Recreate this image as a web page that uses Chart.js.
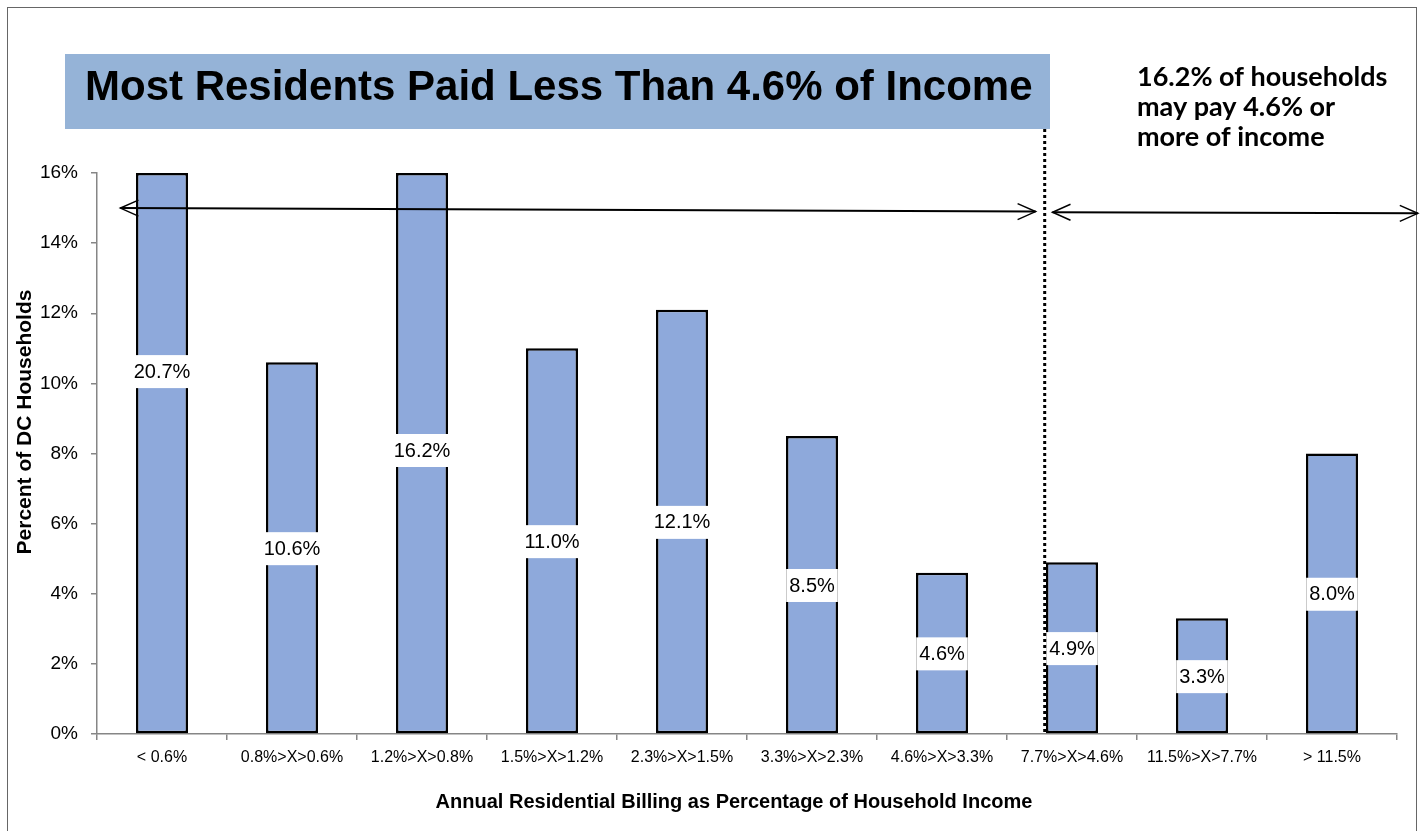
<!DOCTYPE html>
<html>
<head>
<meta charset="utf-8">
<script src="https://cdn.jsdelivr.net/npm/chart.js@4"></script>
<style>
  html, body { margin: 0; padding: 0; background: #fff; }
  #wrap { width: 1424px; height: 831px; position: relative; }
</style>
</head>
<body>
<div id="wrap"><canvas id="billingChart" width="1424" height="831"></canvas></div>
<script>
// Categories and shares
const categories = ['< 0.6%', '0.8%>X>0.6%', '1.2%>X>0.8%', '1.5%>X>1.2%', '2.3%>X>1.5%',
  '3.3%>X>2.3%', '4.6%>X>3.3%', '7.7%>X>4.6%', '11.5%>X>7.7%', '> 11.5%'];
const shares = [20.7, 10.6, 16.2, 11.0, 12.1, 8.5, 4.6, 4.9, 3.3, 8.0];
const yTicks = [0, 2, 4, 6, 8, 10, 12, 14, 16];
const yMax = 16;

const titleText = 'Most Residents Paid Less Than 4.6% of Income';
const noteLines = ['16.2% of households', 'may pay 4.6% or', 'more of income'];
const xTitle = 'Annual Residential Billing as Percentage of Household Income';
const yTitle = 'Percent of DC Households';

const FONT = '"Liberation Sans", Arial, sans-serif';

function arrowHead(ctx, x, y, dir) {
  ctx.beginPath();
  ctx.moveTo(x - dir * 18, y - 8);
  ctx.lineTo(x, y);
  ctx.lineTo(x - dir * 18, y + 8);
  ctx.stroke();
}

// Draws the title box, notes, arrows, dotted divider and value labels
const decorations = {
  id: 'decorations',
  beforeDraw(chart) {
    const ctx = chart.ctx;
    ctx.save();
    ctx.fillStyle = '#fff';
    ctx.fillRect(0, 0, chart.width, chart.height);
    ctx.strokeStyle = '#666';
    ctx.lineWidth = 1;
    ctx.strokeRect(7.5, 7.5, 1409, 900);
    ctx.restore();
  },
  afterDatasetsDraw(chart) {
    const ctx = chart.ctx;
    const xs = chart.scales.x, ys = chart.scales.y;
    const meta = chart.getDatasetMeta(0);
    ctx.save();

    // value labels at the middle of the true value
    ctx.font = '20px ' + FONT;
    ctx.textAlign = 'center';
    ctx.textBaseline = 'middle';
    meta.data.forEach((bar, i) => {
      const txt = shares[i].toFixed(1) + '%';
      const y = ys.getPixelForValue(shares[i] / 2);
      const w = ctx.measureText(txt).width + 6;
      ctx.fillStyle = '#fff';
      ctx.fillRect(bar.x - w / 2, y - 16, w, 33);
      ctx.fillStyle = '#000';
      ctx.fillText(txt, bar.x, y + 1);
    });

    // title box
    ctx.fillStyle = '#95B3D7';
    ctx.fillRect(65, 54, 985, 75);
    ctx.fillStyle = '#000';
    ctx.font = 'bold 42px ' + FONT;
    ctx.textAlign = 'left';
    ctx.textBaseline = 'alphabetic';
    ctx.fillText(titleText, 85, 100);

    // note on the right
    ctx.font = 'bold 27px Lato, "Open Sans", sans-serif';
    noteLines.forEach((line, i) => ctx.fillText(line, 1137, 86 + i * 30));

    // dotted divider
    const divX = xs.getPixelForValue(6.79);
    ctx.strokeStyle = '#000';
    ctx.lineWidth = 3;
    ctx.setLineDash([3, 3]);
    ctx.beginPath();
    ctx.moveTo(divX, 129);
    ctx.lineTo(divX, ys.bottom);
    ctx.stroke();
    ctx.setLineDash([]);

    // double-headed arrows
    ctx.lineWidth = 2;
    const arrows = [
      [-0.32, 15.0, 6.72, 14.9],
      [6.85, 14.88, 9.66, 14.85]
    ];
    arrows.forEach(a => {
      const x1 = xs.getPixelForValue(a[0]), y1 = ys.getPixelForValue(a[1]);
      const x2 = xs.getPixelForValue(a[2]), y2 = ys.getPixelForValue(a[3]);
      ctx.beginPath();
      ctx.moveTo(x1, y1);
      ctx.lineTo(x2, y2);
      ctx.stroke();
      ctx.lineWidth = 1.5;
      arrowHead(ctx, x1, y1, -1);
      arrowHead(ctx, x2, y2, 1);
      ctx.lineWidth = 2;
    });

    // axis titles
    ctx.textAlign = 'center';
    ctx.textBaseline = 'middle';
    ctx.font = 'bold 20px ' + FONT;
    ctx.fillText(xTitle, 734, 802);
    ctx.font = 'bold 21px ' + FONT;
    ctx.translate(25, 422);
    ctx.rotate(-Math.PI / 2);
    ctx.fillText(yTitle, 0, 0);
    ctx.restore();
  }
};

const ctx = document.getElementById('billingChart').getContext('2d');
const billingChart = new Chart(ctx, {
  type: 'bar',
  data: {
    labels: categories,
    datasets: [{
      data: shares.map(v => Math.min(v, yMax)),
      backgroundColor: '#8EA9DB',
      borderColor: '#000',
      borderWidth: 2.5,
      borderSkipped: false,
      barPercentage: 0.4,
      categoryPercentage: 1
    }]
  },
  options: {
    responsive: false,
    animation: false,
    devicePixelRatio: 1,
    layout: { padding: { left: 0, top: 173, right: 27, bottom: 0 } },
    plugins: {
      legend: { display: false },
      tooltip: { enabled: false }
    },
    scales: {
      x: {
        grid: { drawOnChartArea: false, tickLength: 6, color: '#868686', lineWidth: 1.5 },
        border: { color: '#868686', width: 1.5 },
        ticks: { color: '#000', font: { family: FONT, size: 16 }, padding: 8, maxRotation: 0, autoSkip: false },
        afterFit(scale) { scale.height = 97; }
      },
      y: {
        min: 0,
        max: yMax,
        afterBuildTicks(scale) { scale.ticks = yTicks.map(v => ({ value: v })); },
        grid: { drawOnChartArea: false, tickLength: 6, color: '#868686', lineWidth: 1.5 },
        border: { color: '#868686', width: 1.5 },
        ticks: {
          color: '#000',
          font: { family: FONT, size: 19 },
          padding: 13,
          callback: v => v + '%'
        },
        afterFit(scale) { scale.width = 97; }
      }
    }
  },
  plugins: [decorations]
});
</script>
</body>
</html>
